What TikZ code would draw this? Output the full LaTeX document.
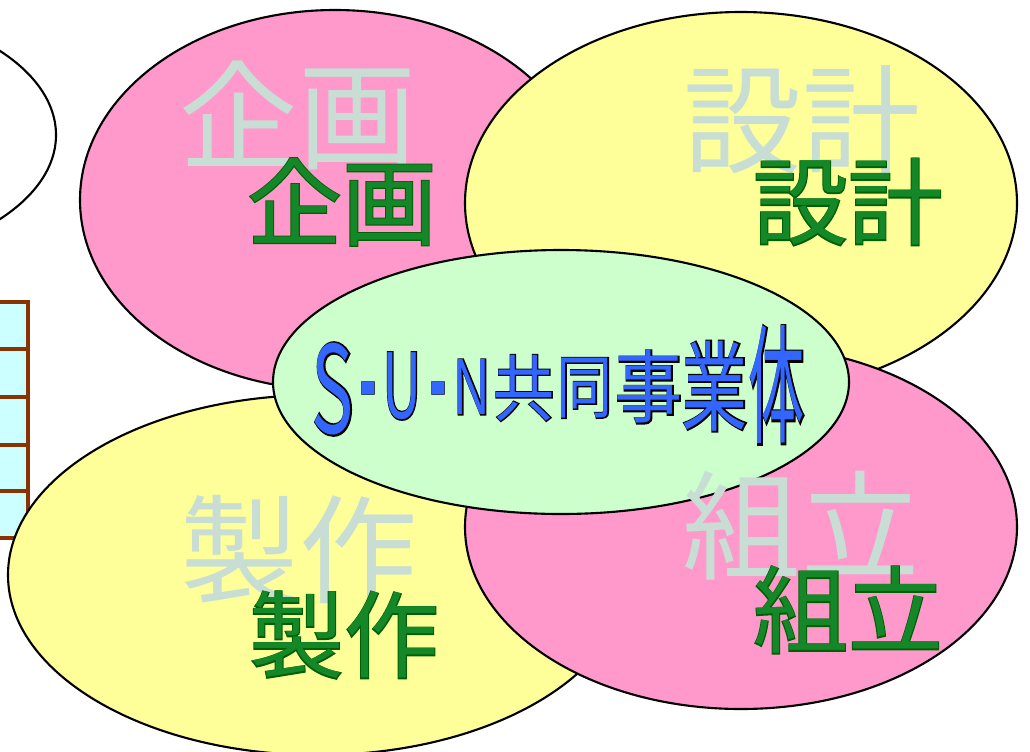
\documentclass[tikz,border=0pt]{standalone}
\usepackage{fontspec}
\newfontfamily\cjk{Noto Sans CJK JP}
\newfontfamily\cjkfat{Noto Sans CJK JP}[FakeBold=3]
\newfontfamily\cjkrim{Noto Sans CJK JP}[FakeBold=2]
\usetikzlibrary{calc}
\definecolor{petal}{RGB}{255,153,204}
\definecolor{butter}{RGB}{255,255,153}
\definecolor{mint}{RGB}{204,255,204}
\definecolor{icecyan}{RGB}{204,255,255}
\definecolor{rust}{RGB}{140,50,0}
\definecolor{mist}{RGB}{200,222,212}
\definecolor{leaf}{RGB}{20,135,40}
\definecolor{leafedge}{RGB}{0,95,0}
\definecolor{sunblue}{RGB}{51,102,255}
\tikzset{
  blob/.style={draw=black, line width=0.6pt},
  ghost/.style={text=mist, inner sep=0pt, font=\cjk\fontsize{33.6}{34}\selectfont},
  word/.style={inner sep=0pt, font=\fontsize{27}{28}\selectfont},
  sun/.style={inner sep=0pt},
}
\def\greenword(#1)#2#3{%
  \node[word, text=leafedge] (#2-edge) at (#1) {\cjkrim #3};
  \node[word, text=leaf] (#2) at (#1) {\cjk #3};}
\def\sunchar(#1)#2#3#4#5{%
  \node[sun, text=black] (#2-edge) at (#1) {\resizebox*{#3}{#4}{\cjkfat #5}};
  \node[sun, text=sunblue] (#2) at (#1) {\resizebox*{#3}{#4}{\cjk #5}};}

\begin{document}
\begin{tikzpicture}[x=0.01cm, y=-0.01cm]
			%%%%% START %%%%%
			\useasboundingbox (0, 0) rectangle (1030, 751);
			\clip (0, 0) rectangle (1030, 751);
			
			\draw[blob, fill=white] (-180, 135) ellipse (236 and 130);
			
			\draw[line width=1.2pt, draw=rust, fill=icecyan] (-10, 302) rectangle (28, 538);
			\foreach \y in {349, 397, 445, 491}
				\draw[line width=1.2pt, draw=rust] (-10, \y) -- (28, \y);
			
			\draw[blob, fill=petal] (335, 200) ellipse (255 and 190);
			\draw[blob, fill=butter] (741, 203) ellipse (276 and 191);
			\draw[blob, fill=butter] (318, 575) ellipse (310 and 180);
			\draw[blob, fill=petal] (741, 527) ellipse (276 and 182);
			\draw[blob, fill=mint] (561, 382) ellipse (288 and 132);
			
			\node[ghost] (kikaku-ghost) at (298, 115) {企画};
			\node[ghost] (sekkei-ghost) at (802, 120) {設計};
			\node[ghost] (seisaku-ghost) at (299, 550) {製作};
			\node[ghost] (kumitate-ghost) at (801, 526) {組立};
			
			\greenword(342, 202){kikaku}{企画}
			\greenword(848, 202){sekkei}{設計}
			\greenword(344, 635){seisaku}{製作}
			\greenword(848, 610){kumitate}{組立}
			
			\sunchar(333, 389){s}{0.42cm}{0.92cm}{S}
			\sunchar(368, 388){dot1}{0.16cm}{0.13cm}{■}
			\sunchar(402, 386){u}{0.39cm}{0.67cm}{U}
			\sunchar(438, 388){dot2}{0.16cm}{0.13cm}{■}
			\sunchar(472, 387){n}{0.38cm}{0.55cm}{N}
			\sunchar(524, 388){kyo}{0.61cm}{0.66cm}{共}
			\sunchar(585, 388){do}{0.56cm}{0.60cm}{同}
			\sunchar(649, 387){ji}{0.68cm}{0.73cm}{事}
			\sunchar(715, 386){gyo}{0.66cm}{0.90cm}{業}
			\sunchar(777, 385){tai}{0.56cm}{1.18cm}{体}
			%%%%% END %%%%%
\end{tikzpicture}
\end{document}
